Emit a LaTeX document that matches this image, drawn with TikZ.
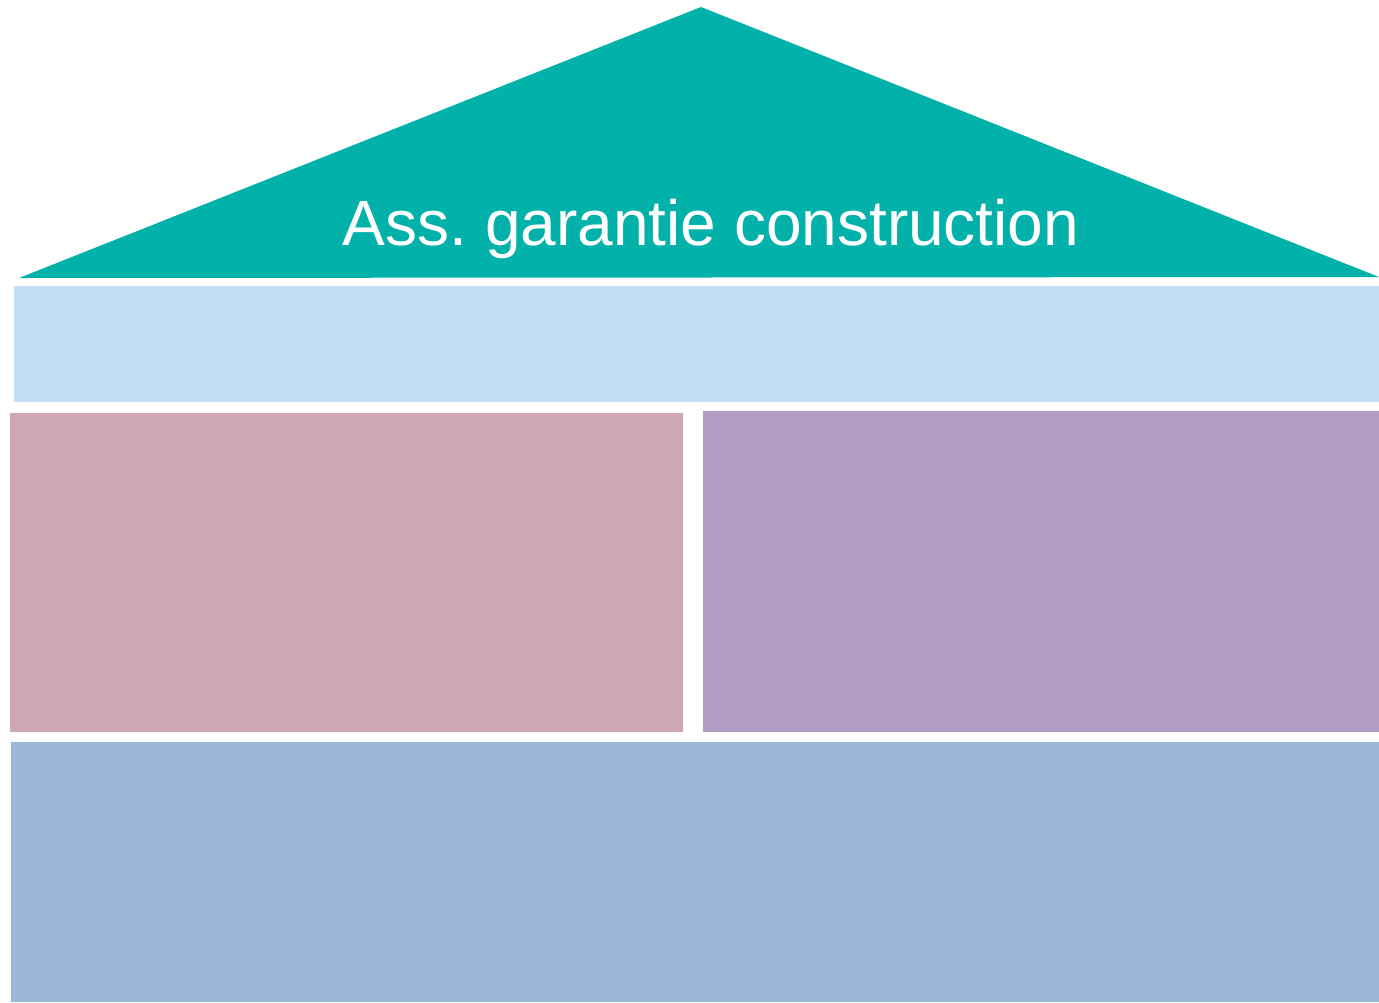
\documentclass[tikz,border=0pt]{standalone}
\usepackage{fontspec}
\setmainfont{Liberation Sans}
\definecolor{roofteal}{HTML}{02B2AA}
\definecolor{beamblue}{HTML}{C3DEF3}
\definecolor{wallpink}{HTML}{CFA6B3}
\definecolor{wallviolet}{HTML}{B19DC3}
\definecolor{baseblue}{HTML}{9DB7D8}
\begin{document}
\begin{tikzpicture}[x=0.5pt, y=-0.5pt]
      \tikzset{block/.style={draw=none}}
      \useasboundingbox (0,0) rectangle (1379,1002);
%% Roof
      	\fill[roofteal] (701,7) -- (1379,277) -- (19,278) -- cycle;
      	\node[anchor=base, text=white, font=\fontsize{32}{38}\selectfont, inner sep=0pt] (roof) at (711,245) {Ass.\ garantie construction};
%% Blocks
      	\fill[block, beamblue] (14,286) rectangle (1379,402);
      	\fill[block, wallpink] (10,413) rectangle (683,732);
    	\fill[block, wallviolet] (703,411) rectangle (1379,732);
  	    \fill[block, baseblue] (11,742) rectangle (1379,1002);
	\end{tikzpicture}
\end{document}
